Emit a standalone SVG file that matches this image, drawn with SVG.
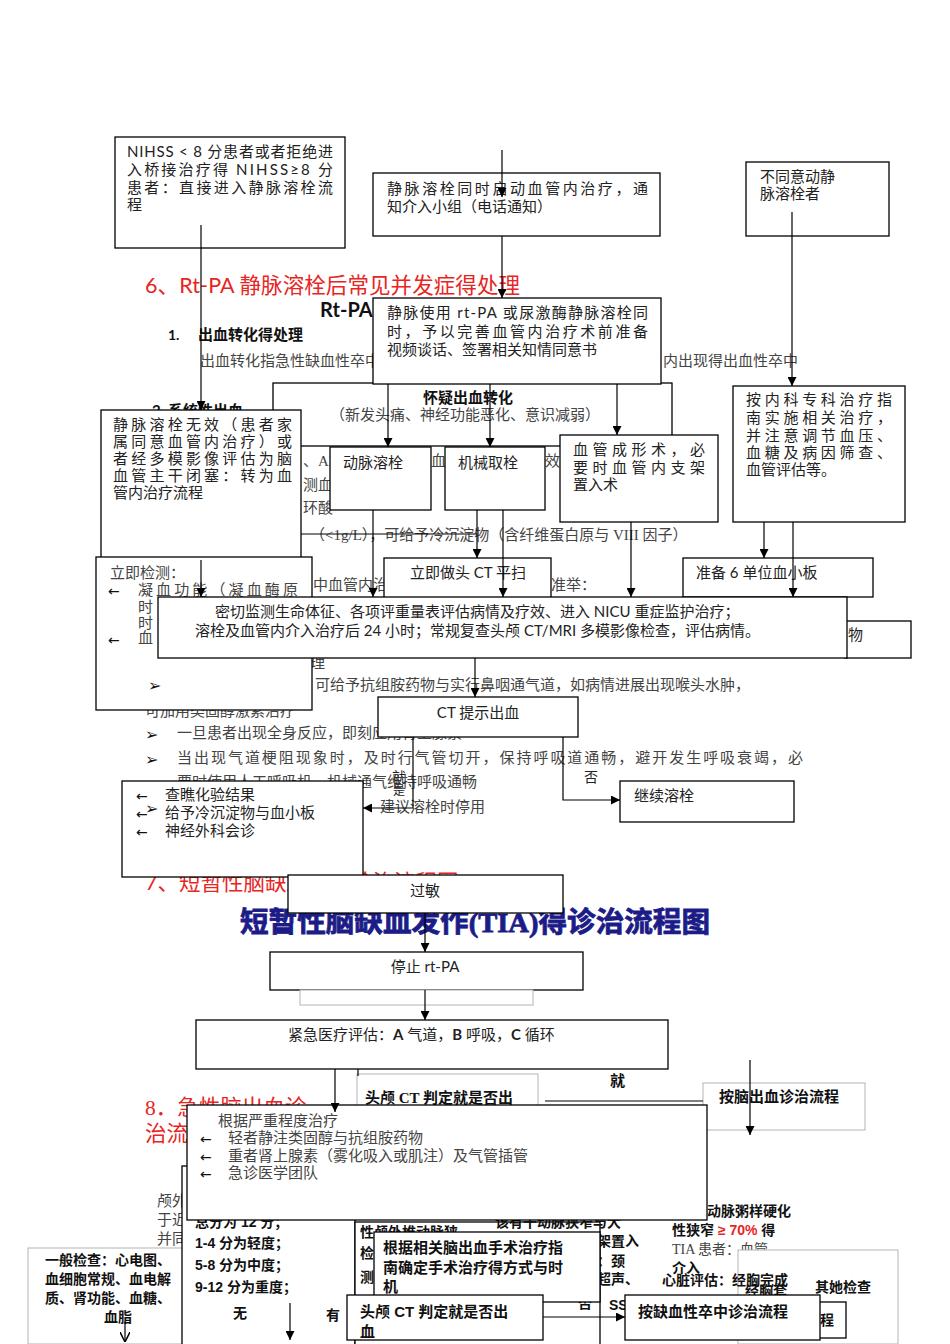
<svg xmlns="http://www.w3.org/2000/svg" width="950" height="1344" viewBox="0 0 950 1344">
<style>
.box{fill:#fff;stroke:#000;stroke-width:1.3}
.gbox{fill:#fff;stroke:#b4b4b4;stroke-width:1}
.t{font-family:Lato,"Noto Sans CJK SC",sans-serif;font-size:15px;fill:#222}
.bg{font-family:"Liberation Serif","Noto Sans CJK SC",serif;font-size:15px;fill:#444}
.bd{font-family:Lato,"Noto Sans CJK SC",sans-serif;font-weight:bold;font-size:15px;fill:#111}
.nb{font-family:"Liberation Sans","Noto Sans CJK SC",sans-serif;font-weight:bold;font-size:15px;fill:#111}
.s14{font-size:14px}
.red{font-family:Lato,"Noto Sans CJK SC",sans-serif;font-size:21.5px;fill:#e8251f}
.ln{stroke:#000;stroke-width:1.2;fill:none}
.sym{font-family:"DejaVu Sans",sans-serif;font-size:14px;fill:#111}
.chev{font-family:"DejaVu Sans",sans-serif;font-size:16px;fill:#111}
</style>
<defs>
<marker id="ah" viewBox="0 0 10 10" refX="10" refY="5" markerWidth="9" markerHeight="9" markerUnits="userSpaceOnUse" orient="auto"><path d="M0,0 L10,5 L0,10 z" fill="#000"/></marker>
<marker id="av" viewBox="0 0 10 10" refX="10" refY="5" markerWidth="10" markerHeight="10" markerUnits="userSpaceOnUse" orient="auto"><path d="M0,0 L10,5 L0,10" fill="none" stroke="#000" stroke-width="1.5"/></marker>
</defs>

<g id="background-text">
<text class="red" x="145" y="293" textLength="375" lengthAdjust="spacing">6、Rt-PA 静脉溶栓后常见并发症得处理</text>
<text class="bd" x="320" y="317" style="font-size:20px">Rt-PA</text>
<text class="bd" x="168" y="340" style="font-size:14px">1.</text>
<text class="bd" x="198" y="340">出血转化得处理</text>
<text class="bg" x="200" y="366">出血转化指急性缺血性卒中</text>
<text class="bg" x="663" y="366">内出现得出血性卒中</text>
<text class="bd" x="152" y="416">2.   系统性出血</text>
</g>

<g id="n-suspect">
<rect class="box" x="273" y="383" width="399" height="63"/>
<text class="bd" x="423" y="403">怀疑出血转化</text>
<text class="bg" x="330" y="420">（新发头痛、神经功能恶化、意识减弱）</text>
</g>

<g id="background-text-2">
<text class="bg" x="303" y="466">、AI</text>
<text class="bg" x="431" y="466">血原</text>
<text class="bg" x="545" y="466">效</text>
<text class="bg" x="303" y="490">测血</text>
<text class="bg" x="303" y="513">环酸</text>
<text class="bg" x="310" y="540">（&lt;1g/L），可给予冷沉淀物（含纤维蛋白原与 VIII 因子）</text>
<text class="bg" x="313" y="590">中血管内治</text>
<text class="bg" x="551" y="590">准举：</text>
<text class="bg" x="310" y="668">理</text>
<text class="bg" x="315" y="690">可给予抗组胺药物与实行鼻咽通气道，如病情进展出现喉头水肿，</text>
<text class="bg" x="145" y="716">可加用类固醇激素治疗</text>
<text class="chev" x="145" y="740">➢</text>
<text class="bg" x="177" y="738">一旦患者出现全身反应，即刻应用肾上腺素</text>
<text class="chev" x="145" y="765">➢</text>
<text class="bg" x="177" y="763" textLength="626" lengthAdjust="spacing">当出现气道梗阻现象时，及时行气管切开，保持呼吸道通畅，避开发生呼吸衰竭，必</text>
<text class="bg" x="177" y="787">要时使用人工呼吸机、机械通气维持呼吸通畅</text>
<text class="bg" x="380" y="812">建议溶栓时停用</text>
<text class="red" x="145" y="890">7、短暂性脑缺血发作诊治流程图</text>
<text x="240" y="932" font-family="'Liberation Serif','Noto Sans CJK SC',serif" font-weight="bold" font-size="28" fill="#1c1c88" stroke="#1c1c88" stroke-width="0.8" textLength="470" lengthAdjust="spacingAndGlyphs">短暂性脑缺血发作(TIA)得诊治流程图</text>
<text class="red" x="145" y="1115" style="font-family:'Liberation Serif','Noto Sans CJK SC',serif">8．急性脑出血诊</text>
<text class="red" x="145" y="1141">治流程图</text>
</g>

<g id="n-nihss">
<rect class="box" x="115" y="137" width="230" height="111"/>
<text class="t" x="127" y="157" textLength="206" lengthAdjust="spacing">NIHSS &lt; 8 分患者或者拒绝进</text>
<text class="t" x="127" y="175" textLength="206" lengthAdjust="spacing">入桥接治疗得 NIHSS≥8 分</text>
<text class="t" x="127" y="193" textLength="206" lengthAdjust="spacing">患者：直接进入静脉溶栓流</text>
<text class="t" x="127" y="210">程</text>
</g>
<g id="n-start-endo">
<rect class="box" x="373" y="173" width="287" height="63"/>
<text class="t" x="387" y="194" textLength="261" lengthAdjust="spacing">静脉溶栓同时启动血管内治疗，通</text>
<text class="t" x="387" y="212">知介入小组（电话通知）</text>
</g>
<g id="n-refuse">
<rect class="box" x="746" y="162" width="143" height="74"/>
<text class="t" x="760" y="182">不同意动静</text>
<text class="t" x="760" y="199">脉溶栓者</text>
</g>
<g id="n-iv-rtpa">
<rect class="box" x="373" y="298" width="288" height="86"/>
<text class="t" x="387" y="318" textLength="261" lengthAdjust="spacing">静脉使用 rt-PA 或尿激酶静脉溶栓同</text>
<text class="t" x="387" y="337" textLength="261" lengthAdjust="spacing">时，予以完善血管内治疗术前准备</text>
<text class="t" x="387" y="355">视频谈话、签署相关知情同意书</text>
</g>
<g id="n-arterial">
<rect class="box" x="330" y="447" width="101" height="63"/>
<text class="t" x="343" y="468">动脉溶栓</text>
</g>
<g id="n-mechanical">
<rect class="box" x="445" y="447" width="100" height="63"/>
<text class="t" x="458" y="468">机械取栓</text>
</g>
<g id="n-angioplasty">
<rect class="box" x="560" y="435" width="158" height="87"/>
<text class="t" x="573" y="455" textLength="132" lengthAdjust="spacing">血管成形术，必</text>
<text class="t" x="573" y="473" textLength="132" lengthAdjust="spacing">要时血管内支架</text>
<text class="t" x="573" y="490">置入术</text>
</g>
<g id="n-medical">
<rect class="box" x="733" y="386" width="172" height="136"/>
<text class="t" x="746" y="405" textLength="146" lengthAdjust="spacing">按内科专科治疗指</text>
<text class="t" x="746" y="423" textLength="146" lengthAdjust="spacing">南实施相关治疗，</text>
<text class="t" x="746" y="441" textLength="146" lengthAdjust="spacing">并注意调节血压、</text>
<text class="t" x="746" y="458" textLength="146" lengthAdjust="spacing">血糖及病因筛查、</text>
<text class="t" x="746" y="475">血管评估等。</text>
</g>
<g id="n-ineffective">
<rect class="box" x="101" y="410" width="200" height="150"/>
<text class="t" x="113" y="430" textLength="179" lengthAdjust="spacing">静脉溶栓无效（患者家</text>
<text class="t" x="113" y="447" textLength="179" lengthAdjust="spacing">属同意血管内治疗）或</text>
<text class="t" x="113" y="464" textLength="179" lengthAdjust="spacing">者经多模影像评估为脑</text>
<text class="t" x="113" y="481" textLength="179" lengthAdjust="spacing">血管主干闭塞：转为血</text>
<text class="t" x="113" y="498">管内治疗流程</text>
</g>
<g id="n-test">
<rect class="box" x="96" y="557" width="216" height="153"/>
<text class="bg" x="110" y="578">立即检测：</text>
<text class="sym" x="108" y="596">←</text>
<text class="bg" x="138" y="595" textLength="160" lengthAdjust="spacing">凝血功能（凝血酶原</text>
<text class="bg" x="138" y="612">时</text>
<text class="bg" x="138" y="628">时</text>
<text class="sym" x="108" y="645">←</text>
<text class="bg" x="138" y="643">血</text>
<text class="chev" x="148" y="691">➢</text>
</g>
<g id="n-ct-scan">
<rect class="box" x="384" y="558" width="167" height="42"/>
<text class="t" x="410" y="578">立即做头 CT 平扫</text>
</g>
<g id="n-platelet">
<rect class="box" x="683" y="558" width="190" height="39"/>
<text class="t" x="696" y="578">准备 6 单位血小板</text>
</g>
<g id="n-drug">
<rect class="box" x="845" y="621" width="66" height="37"/>
<text class="t" x="848" y="640">物</text>
</g>
<g id="n-monitor">
<rect class="box" x="158" y="597" width="689" height="61"/>
<text class="t" x="215" y="617">密切监测生命体征、各项评重量表评估病情及疗效、进入 NICU 重症监护治疗；</text>
<text class="t" x="195" y="636">溶栓及血管内介入治疗后 24 小时；常规复查头颅 CT/MRI 多模影像检查，评估病情。</text>
</g>
<g id="n-ct-bleed">
<rect class="box" x="378" y="697" width="200" height="40"/>
<text class="t" x="478" y="718" text-anchor="middle">CT 提示出血</text>
</g>
<g id="n-continue">
<rect class="box" x="620" y="781" width="174" height="41"/>
<text class="t" x="634" y="801">继续溶栓</text>
</g>
<g id="n-check">
<rect class="box" x="122" y="781" width="241" height="96"/>
<text class="sym" x="136" y="801">←</text>
<text class="t" x="165" y="800">查瞧化验结果</text>
<text class="sym" x="136" y="819">←</text>
<text class="t" x="165" y="818">给予冷沉淀物与血小板</text>
<text class="sym" x="136" y="837">←</text>
<text class="t" x="165" y="836">神经外科会诊</text>
<text class="chev" x="145" y="814">➢</text>
</g>
<g id="n-allergy">
<rect class="box" x="288" y="875" width="275" height="38"/>
<text class="t" x="425" y="896" text-anchor="middle">过敏</text>
</g>
<g id="n-stop">
<rect class="box" x="270" y="952" width="313" height="38"/>
<rect class="gbox" x="300" y="990" width="233" height="15"/>
<text class="t" x="425" y="972" text-anchor="middle">停止 rt-PA</text>
</g>
<g id="n-emergency">
<rect class="box" x="196" y="1020" width="472" height="49"/>
<text class="t" x="288" y="1040">紧急医疗评估：<tspan font-weight="bold">A</tspan> 气道，<tspan font-weight="bold">B</tspan> 呼吸，<tspan font-weight="bold">C</tspan> 循环</text>
</g>
<g id="n-ct-judge-1">
<rect class="gbox" x="357" y="1074" width="181" height="60"/>
<text class="nb" x="365" y="1103" style="font-family:'Liberation Serif','Noto Sans CJK SC',serif">头颅 CT 判定就是否出</text>
</g>
<g id="n-ich-flow">
<rect class="gbox" x="703" y="1083" width="162" height="47"/>
<text class="nb" x="719" y="1102">按脑出血诊治流程</text>
</g>
<text class="nb" x="610" y="1086">就</text>

<g id="n-bottom-bg">
<text class="bg" x="157" y="1206">颅外椎</text>
<text class="bg" x="157" y="1225">于近</text>
<text class="bg" x="157" y="1244">并同</text>
<rect class="gbox" x="28" y="1248" width="160" height="96"/>
<text class="nb s14" x="45" y="1265">一般检查：心电图、</text>
<text class="nb s14" x="45" y="1284">血细胞常规、血电解</text>
<text class="nb s14" x="45" y="1303">质、肾功能、血糖、</text>
<text class="nb s14" x="104" y="1322">血脂</text>
<rect class="box" x="182" y="1166" width="173" height="190"/>
<text class="nb s14" x="195" y="1227">总分为 12 分；</text>
<text class="nb s14" x="195" y="1248">1-4 分为轻度；</text>
<text class="nb s14" x="195" y="1270">5-8 分为中度；</text>
<text class="nb s14" x="195" y="1292">9-12 分为重度；</text>
<text class="nb s14" x="233" y="1318">无</text>
<text class="nb s14" x="326" y="1320">有</text>
<rect class="box" x="355" y="1222" width="245" height="130"/>
<text class="nb s14" x="360" y="1237">性颅外椎动脉狭</text>
<text class="nb s14" x="495" y="1227">该有干动脉狭窄与大</text>
<text class="nb s14" x="360" y="1258">检</text>
<text class="nb s14" x="360" y="1282">测</text>
<text class="nb s14" x="597" y="1246">架置入</text>
<text class="nb s14" x="597" y="1266">：颈</text>
<text class="nb s14" x="597" y="1284">超声、</text>
<text class="nb s14" x="578" y="1308">否</text>
<text class="nb s14" x="609" y="1310">SS</text>
<text class="nb s14" x="707" y="1216">动脉粥样硬化</text>
<text class="nb s14" x="672" y="1235">性狭窄 <tspan fill="#e8251f">≥ 70%</tspan>  得</text>
<text class="bg s14" x="672" y="1254">TIA  患者：血管</text>
<rect class="gbox" x="738" y="1250" width="160" height="94"/>
<text class="nb s14" x="672" y="1273">介入</text>
<text class="nb s14" x="662" y="1285">心脏评估：经胸完成</text>
<text class="nb s14" x="745" y="1296">经胸套</text>
<text class="nb s14" x="815" y="1292">其她检查</text>
<rect class="box" x="800" y="1302" width="46" height="36"/>
<text class="nb s14" x="820" y="1325">程</text>
</g>

<g id="n-severity">
<rect class="box" x="187" y="1105" width="520" height="115"/>
<text class="bg" x="218" y="1126">根据严重程度治疗</text>
<text class="sym" x="200" y="1144">←</text>
<text class="bg" x="228" y="1143">轻者静注类固醇与抗组胺药物</text>
<text class="sym" x="200" y="1162">←</text>
<text class="bg" x="228" y="1161">重者肾上腺素（雾化吸入或肌注）及气管插管</text>
<text class="sym" x="200" y="1179">←</text>
<text class="bg" x="228" y="1178">急诊医学团队</text>
</g>
<g id="n-surgery">
<rect class="box" x="374" y="1232" width="226" height="70"/>
<text class="nb" x="383" y="1253">根据相关脑出血手术治疗指</text>
<text class="nb" x="383" y="1273">南确定手术治疗得方式与时</text>
<text class="nb" x="383" y="1292">机</text>
</g>
<g id="n-ct-judge-2">
<rect class="box" x="347" y="1295" width="196" height="45"/>
<text class="nb" x="360" y="1317">头颅 CT 判定就是否出</text>
<text class="nb" x="360" y="1337">血</text>
</g>
<g id="n-ischemic-flow">
<rect class="box" x="625" y="1295" width="195" height="45"/>
<text class="nb" x="638" y="1317">按缺血性卒中诊治流程</text>
</g>

<g id="connectors">
<path class="ln" d="M502,150 V197" marker-end="url(#ah)"/>
<path class="ln" d="M502,236 V298" marker-end="url(#ah)"/>
<path class="ln" d="M201,225 V410" marker-end="url(#ah)"/>
<path class="ln" d="M792,212 V386" marker-end="url(#ah)"/>
<path class="ln" d="M388,384 V447" marker-end="url(#ah)"/>
<path class="ln" d="M490,384 V447" marker-end="url(#ah)"/>
<path class="ln" d="M617,384 V435" marker-end="url(#ah)"/>
<path class="ln" d="M301,534 H477"/>
<path class="ln" d="M201,560 V597" marker-end="url(#ah)"/>
<path class="ln" d="M373,510 V597" marker-end="url(#ah)"/>
<path class="ln" d="M477,510 V558" marker-end="url(#ah)"/>
<path class="ln" d="M503,510 V597" marker-end="url(#ah)"/>
<path class="ln" d="M631,522 V597" marker-end="url(#ah)"/>
<path class="ln" d="M764,522 V558" marker-end="url(#ah)"/>
<path class="ln" d="M793,522 V597" marker-end="url(#ah)"/>
<path class="ln" d="M475,658 V697" marker-end="url(#ah)"/>
<path class="ln" d="M413,737 V808 H363" marker-end="url(#ah)"/>
<path class="ln" d="M563,737 V800 H620" marker-end="url(#ah)"/>
<path class="ln" d="M425,913 V952" marker-end="url(#ah)"/>
<path class="ln" d="M425,990 V1020" marker-end="url(#ah)"/>
<path class="ln" d="M335,1069 V1112" marker-end="url(#ah)"/>
<path class="ln" d="M358,1069 V1076"/>
<path class="ln" d="M545,1101 H703"/>
<path class="ln" d="M750,1060 V1135" marker-end="url(#ah)"/>
<path class="ln" d="M543,1317 H625" marker-end="url(#ah)"/>
<path class="ln" d="M290,1303 V1340" marker-end="url(#ah)"/>
<path class="ln" d="M125,1322 V1342" marker-end="url(#av)"/>
<text class="t" x="392" y="782" style="font-size:14px">就</text>
<text class="t" x="393" y="795" style="font-size:12px">是</text>
<text class="t" x="584" y="782" style="font-size:14px">否</text>
</g>
</svg>
